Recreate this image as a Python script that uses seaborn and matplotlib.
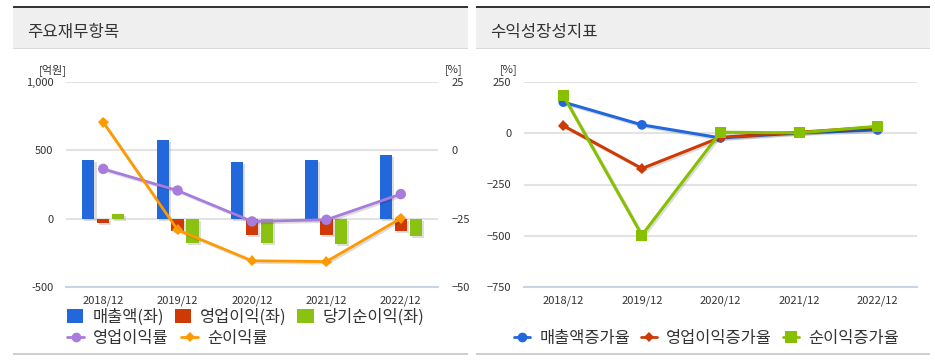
import numpy as np
import pandas as pd
import seaborn as sns
import matplotlib.pyplot as plt
from matplotlib.patches import Rectangle, Patch
from matplotlib.lines import Line2D
from matplotlib import patheffects as pe

years = ["2018/12", "2019/12", "2020/12", "2021/12", "2022/12"]

# 주요재무항목 (억원, 좌축)
sales = [428, 574, 416, 428, 469]
op_income = [-34, -93, -117, -117, -88]
net_income = [34, -175, -180, -188, -126]
# 비율 (%, 우축)
op_margin = [-6.8, -14.7, -26.0, -25.4, -16.0]
net_margin = [10.3, -29.1, -40.4, -40.7, -24.9]

# 수익성장성지표 (%)
sales_growth = [152, 41, -23, 2, 16]
op_growth = [37, -172, -20, 5, 30]
net_growth = [184, -497, 5, 2, 34]

bar_names = ["매출액(좌)", "영업이익(좌)", "당기순이익(좌)"]
bar_colors = ["#2268dc", "#cf3a04", "#8bc111"]

sns.set_theme(style="white")
plt.rcParams["font.family"] = ["Noto Sans CJK KR", "DejaVu Sans"]

W, H = 935, 362
fig = plt.figure(figsize=(W / 100, H / 100), dpi=100)
LEG_FS = 11.8


def fx(px):
    return px / W


def fy(py):
    return 1 - py / H


def panel(x0, x1, title):
    w = fx(x1 - x0)
    fig.add_artist(Rectangle((fx(x0), fy(48)), w, 41 / H, transform=fig.transFigure,
                             facecolor="#efefef", edgecolor="none"))
    fig.add_artist(Rectangle((fx(x0), fy(8)), w, 2 / H, transform=fig.transFigure,
                             facecolor="#363636", edgecolor="none"))
    fig.add_artist(Rectangle((fx(x0), fy(49)), w, 1 / H, transform=fig.transFigure,
                             facecolor="#dadada", edgecolor="none"))
    fig.add_artist(Rectangle((fx(x0), fy(355)), w, 2 / H, transform=fig.transFigure,
                             facecolor="#cfcfcf", edgecolor="none"))
    fig.text(fx(x0 + 14), fy(32), title, fontsize=12, color="#333333", va="center")


def style_axis(ax):
    for s in ["left", "right", "top"]:
        ax.spines[s].set_visible(False)
    ax.spines["bottom"].set_color("#c8d3e3")
    ax.spines["bottom"].set_linewidth(1.5)
    ax.set_xlim(-0.5, 4.5)
    ax.set_xticks(range(5))
    ax.set_xticklabels(years)
    ax.set_xticks(np.arange(-0.5, 5, 1), minor=True)
    ax.tick_params(axis="x", which="major", length=0, labelsize=8, pad=6, colors="#333333")
    ax.tick_params(axis="x", which="minor", length=5, width=1.5, color="#c8d3e3")
    ax.tick_params(axis="y", length=0, labelsize=8, pad=9, colors="#333333")
    ax.grid(axis="y", color="#e3e3e3", linewidth=1.5)
    ax.grid(axis="x", visible=False)
    ax.set_axisbelow(True)
    ax.set_xlabel("")
    ax.set_ylabel("")


shadow_line = [pe.SimpleLineShadow(offset=(1.2, -1.2), alpha=0.15), pe.Normal()]

# ---------------- left panel ----------------
panel(13, 468, "주요재무항목")
ax1 = fig.add_axes([fx(66), fy(287), fx(438 - 66), (287 - 82) / H])

bar_df = pd.DataFrame({
    "year": years * 3,
    "value": sales + op_income + net_income,
    "item": [bar_names[0]] * 5 + [bar_names[1]] * 5 + [bar_names[2]] * 5,
})
sns.barplot(data=bar_df, x="year", y="value", hue="item", hue_order=bar_names,
            palette=bar_colors, width=0.6, gap=0.18, saturation=1, linewidth=0,
            legend=False, ax=ax1)
for p in ax1.patches:
    p.set_path_effects([pe.SimplePatchShadow(offset=(1.5, -1.5), shadow_rgbFace="#a0a0a0", alpha=0.35),
                        pe.Normal()])

style_axis(ax1)
ax1.set_ylim(-500, 1000)
ax1.set_yticks([-500, 0, 500, 1000])
ax1.set_yticklabels(["-500", "0", "500", "1,000"])

ax2 = ax1.twinx()
x = np.arange(5)
sns.lineplot(x=x, y=op_margin, color="#a77cdc", marker="o", markersize=7.5,
             markeredgewidth=0, linewidth=2, ax=ax2, path_effects=shadow_line)
sns.lineplot(x=x, y=net_margin, color="#ff9900", marker="D", markersize=5.5,
             markeredgewidth=0, linewidth=2, ax=ax2, path_effects=shadow_line)
ax2.set_ylim(-50, 25)
ax2.set_yticks([-50, -25, 0, 25])
for s in ax2.spines.values():
    s.set_visible(False)
ax2.tick_params(axis="y", length=0, labelsize=8, pad=10, colors="#333333")
ax2.grid(False)
ax2.set_xlim(-0.5, 4.5)

fig.text(fx(53), fy(70), "[억원]", fontsize=8, color="#333333", ha="center", va="center")
fig.text(fx(454), fy(70), "[%]", fontsize=8, color="#333333", ha="center", va="center")

bar_handles = [Patch(facecolor=c, edgecolor="none") for c in bar_colors]
fig.legend(bar_handles, bar_names, loc="center left", bbox_to_anchor=(fx(67), fy(317)),
           ncol=3, frameon=False, fontsize=LEG_FS, handlelength=1.0, handleheight=1.0,
           handletextpad=0.55, columnspacing=0.65, borderpad=0, borderaxespad=0,
           labelcolor="#333333")
line_handles = [
    Line2D([], [], color="#a77cdc", marker="o", markersize=7, markeredgewidth=0, linewidth=2),
    Line2D([], [], color="#ff9900", marker="D", markersize=5.5, markeredgewidth=0, linewidth=2),
]
fig.legend(line_handles, ["영업이익률", "순이익률"], loc="center left",
           bbox_to_anchor=(fx(67), fy(338)), ncol=2, frameon=False, fontsize=LEG_FS,
           handlelength=1.05, handletextpad=0.55, columnspacing=0.75, borderpad=0,
           borderaxespad=0, labelcolor="#333333")

# ---------------- right panel ----------------
panel(476, 930, "수익성장성지표")
ax3 = fig.add_axes([fx(524), fy(287), fx(917 - 524), (287 - 82) / H])

growth_series = [
    ("매출액증가율", sales_growth, "#2268dc", "o", 7),
    ("영업이익증가율", op_growth, "#cf3a04", "D", 5.5),
    ("순이익증가율", net_growth, "#86c000", "s", 8),
]
for name, vals, c, m, ms in growth_series:
    sns.lineplot(x=x, y=vals, color=c, marker=m, markersize=ms, markeredgewidth=0,
                 linewidth=2.2, ax=ax3, path_effects=shadow_line)

style_axis(ax3)
ax3.set_ylim(-750, 250)
ax3.set_yticks([-750, -500, -250, 0, 250])
fig.text(fx(509), fy(70), "[%]", fontsize=8, color="#333333", ha="center", va="center")

g_handles = [Line2D([], [], color=c, marker=m, markersize=ms, markeredgewidth=0, linewidth=2)
             for _, _, c, m, ms in growth_series]
fig.legend(g_handles, [g[0] for g in growth_series], loc="center left",
           bbox_to_anchor=(fx(514), fy(338)), ncol=3, frameon=False, fontsize=LEG_FS,
           handlelength=1.0, handletextpad=0.55, columnspacing=0.65, borderpad=0,
           borderaxespad=0, labelcolor="#333333")

fig.savefig("out.png", dpi=100)
